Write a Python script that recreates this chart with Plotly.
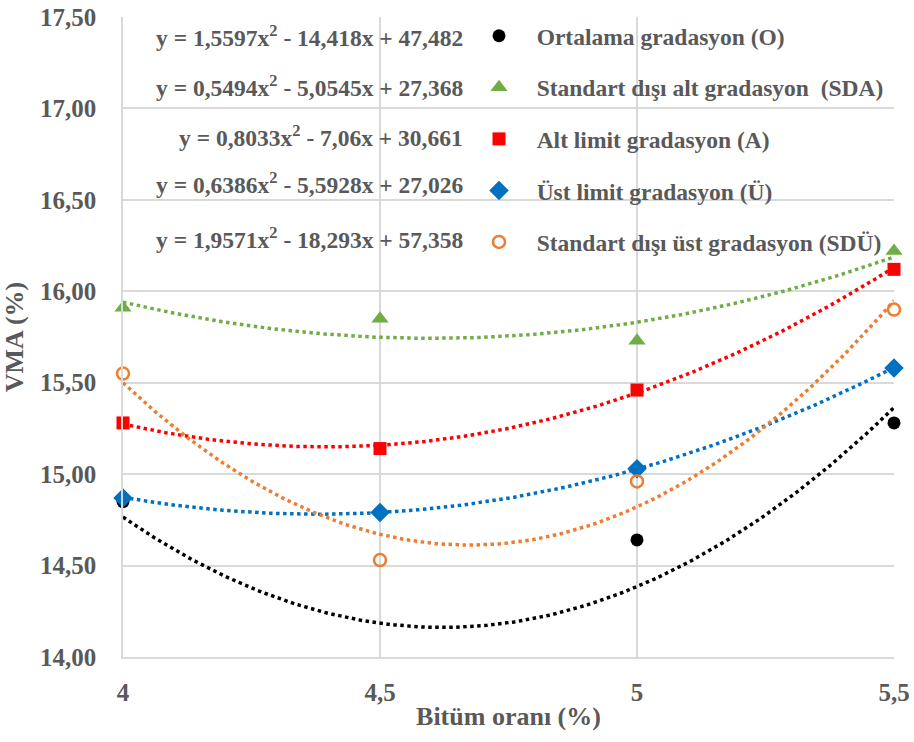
import numpy as np
import plotly.graph_objects as go

# Data
bitumen = [4.0, 4.5, 5.0, 5.5]
series_names = [
    "Ortalama gradasyon (O)",
    "Standart dışı alt gradasyon  (SDA)",
    "Alt limit gradasyon (A)",
    "Üst limit gradasyon (Ü)",
    "Standart dışı üst gradasyon (SDÜ)",
]
vma_O = [14.85, 13.93, 14.64, 15.28]
vma_SDA = [15.91, 15.85, 15.73, 16.22]
vma_A = [15.28, 15.14, 15.46, 16.12]
vma_U = [14.87, 14.79, 15.03, 15.58]
vma_SDU = [15.55, 14.53, 14.96, 15.90]

# Trendline coefficients (a, b, c) as printed on the chart
coef_O = [1.5597, -14.418, 47.482]
coef_SDA = [0.5494, -5.0545, 27.368]
coef_A = [0.8033, -7.06, 30.661]
coef_U = [0.6386, -5.5928, 27.026]
coef_SDU = [1.9571, -18.293, 57.358]

equations = [
    "y = 1,5597x<sup>2</sup> - 14,418x + 47,482",
    "y = 0,5494x<sup>2</sup> - 5,0545x + 27,368",
    "y = 0,8033x<sup>2</sup> - 7,06x + 30,661",
    "y = 0,6386x<sup>2</sup> - 5,5928x + 27,026",
    "y = 1,9571x<sup>2</sup> - 18,293x + 57,358",
]

y_ticks = [14.0, 14.5, 15.0, 15.5, 16.0, 16.5, 17.0, 17.5]
x_ticks = [4.0, 4.5, 5.0, 5.5]
x_tick_text = ["4", "4,5", "5", "5,5"]

colors = ["#000000", "#70ad47", "#ff0000", "#0070c0", "#ed7d31"]
symbols = ["circle", "triangle-up", "square", "diamond", "circle-open"]
sizes = [13, 15, 13, 15, 12]
all_vals = [vma_O, vma_SDA, vma_A, vma_U, vma_SDU]
all_coefs = [coef_O, coef_SDA, coef_A, coef_U, coef_SDU]

FONT = "Liberation Serif"
GRAY = "#595959"

fig = go.Figure()

xs = np.linspace(bitumen[0], bitumen[-1], 200)
for i in range(5):
    ys = np.polyval(all_coefs[i], xs)
    fig.add_trace(go.Scatter(
        x=xs, y=ys, mode="lines",
        line=dict(color=colors[i], width=3.5, dash="dot"),
        showlegend=False, hoverinfo="skip",
    ))

for i in range(5):
    marker = dict(color=colors[i], size=sizes[i], symbol=symbols[i])
    if symbols[i] == "circle-open":
        marker["line"] = dict(color=colors[i], width=2.5)
    fig.add_trace(go.Scatter(
        x=bitumen, y=all_vals[i], mode="markers",
        name="\u00a0\u00a0\u00a0" + series_names[i],
        marker=marker, cliponaxis=False,
        legendgroup=f"g{i}",
    ))

L, R, T, B = 123, 20, 17, 85
W, H = 914, 742
pw = W - L - R
ph = H - T - B

eq_y_px = [36, 86, 136, 183, 238]
eq_x_px = 465
for eq, ypx in zip(equations, eq_y_px):
    fig.add_annotation(
        x=(eq_x_px - L) / pw, y=1 - (ypx - T) / ph,
        xref="paper", yref="paper", xanchor="right", yanchor="middle",
        text=eq, showarrow=False,
        font=dict(family=FONT, size=23.5, color=GRAY, weight="bold"),
    )

fig.update_layout(
    width=W, height=H,
    margin=dict(l=L, r=R, t=T, b=B),
    paper_bgcolor="white", plot_bgcolor="white",
    separators=",.",
    font=dict(family=FONT, size=23.5, color=GRAY, weight="bold"),
    legend=dict(
        x=(479 - L) / pw, y=1 - (14 - T) / ph,
        xanchor="left", yanchor="top",
        bgcolor="rgba(0,0,0,0)", tracegroupgap=18,
        font=dict(family=FONT, size=23.5, color=GRAY, weight="bold"),
        itemwidth=30,
    ),
    xaxis=dict(
        range=[4, 5.5], tickvals=x_ticks, ticktext=x_tick_text,
        showgrid=True, gridcolor="#d9d9d9", gridwidth=1.5,
        showline=True, linecolor="#d9d9d9", linewidth=1.5,
        ticks="outside", ticklen=12, tickcolor="rgba(0,0,0,0)",
        zeroline=False, automargin=False,
        tickfont=dict(family=FONT, size=25, color=GRAY, weight="bold"),
        title=dict(text="Bitüm oranı (%)", standoff=2,
                   font=dict(family=FONT, size=26, color=GRAY, weight="bold")),
    ),
    yaxis=dict(
        range=[14, 17.5], tickvals=y_ticks, tickformat=".2f",
        showgrid=True, gridcolor="#d9d9d9", gridwidth=1.5,
        showline=True, linecolor="#d9d9d9", linewidth=1.5,
        ticks="outside", ticklen=20, tickcolor="rgba(0,0,0,0)",
        zeroline=False, automargin=False,
        tickfont=dict(family=FONT, size=25, color=GRAY, weight="bold"),
        title=dict(text="VMA (%)", standoff=9,
                   font=dict(family=FONT, size=26, color=GRAY, weight="bold")),
    ),
)

fig.write_html("out.html")
